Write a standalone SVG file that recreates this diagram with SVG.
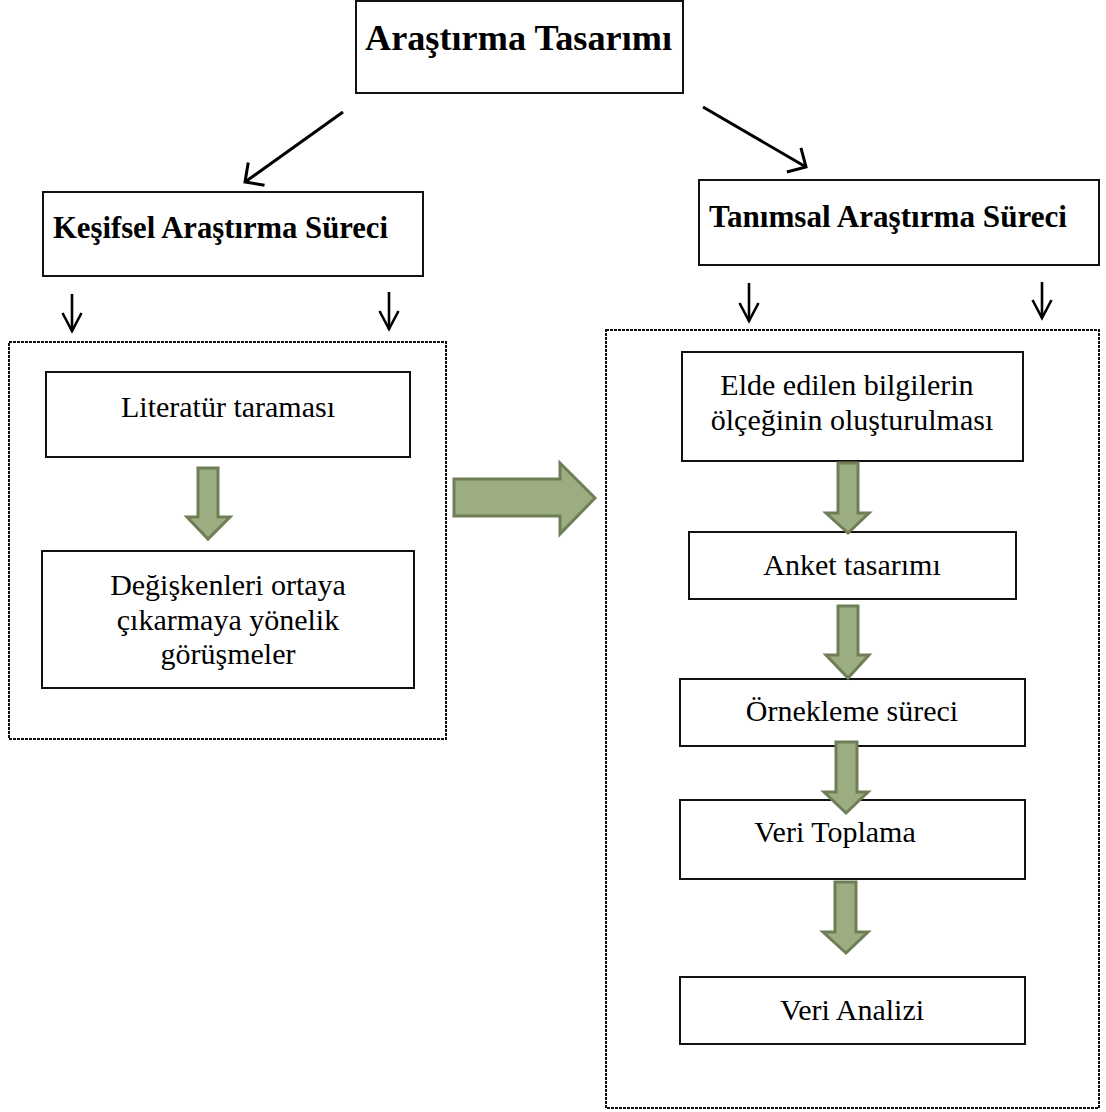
<svg xmlns="http://www.w3.org/2000/svg" width="1106" height="1112" viewBox="0 0 1106 1112">
  <style>
    .box { fill: #ffffff; stroke: #111111; stroke-width: 2; }
    .group { fill: none; stroke: #111111; stroke-width: 2; stroke-dasharray: 3 1; }
    .title { font-family: "Liberation Serif", "Times New Roman", serif; font-weight: bold; fill: #000000; }
    .label { font-family: "Liberation Serif", "Times New Roman", serif; font-size: 30px; fill: #000000; text-anchor: middle; }
    .line { fill: none; stroke: #000000; stroke-linecap: butt; }
    .block { fill: #9cad82; stroke: #6f7e57; stroke-width: 3; stroke-linejoin: miter; }
  </style>
  <defs>
    <marker id="head-lg" markerUnits="userSpaceOnUse" viewBox="-18 -16 20 32" refX="0" refY="0" markerWidth="20" markerHeight="32" orient="auto" overflow="visible">
      <path d="M-14,-14 L0,0 L-14,14" fill="none" stroke="#000" stroke-width="3"/>
    </marker>
    <marker id="head-sm" markerUnits="userSpaceOnUse" viewBox="-20 -11 22 22" refX="0" refY="0" markerWidth="22" markerHeight="22" orient="auto" overflow="visible">
      <path d="M-18,-9.5 L0,0 L-18,9.5" fill="none" stroke="#000" stroke-width="2.6"/>
    </marker>
  </defs>

  <rect width="1106" height="1112" fill="#ffffff"/>

  <!-- dashed containers -->
  <g id="group-kesifsel">
    <rect class="group" x="9" y="342" width="437" height="397"/>
  </g>
  <g id="group-tanimsal">
    <rect class="group" x="606" y="330" width="493" height="778"/>
  </g>

  <!-- nodes -->
  <g id="node-tasarim">
    <rect class="box" x="356" y="1" width="327" height="92"/>
    <text class="title" x="365" y="50" font-size="35" textLength="307" lengthAdjust="spacingAndGlyphs">Araştırma Tasarımı</text>
  </g>
  <g id="node-kesifsel">
    <rect class="box" x="43" y="192" width="380" height="84"/>
    <text class="title" x="53" y="238" font-size="30.5" textLength="335" lengthAdjust="spacingAndGlyphs">Keşifsel Araştırma Süreci</text>
  </g>
  <g id="node-tanimsal">
    <rect class="box" x="699" y="180" width="400" height="85"/>
    <text class="title" x="709" y="227" font-size="30.5" textLength="358" lengthAdjust="spacingAndGlyphs">Tanımsal Araştırma Süreci</text>
  </g>
  <g id="node-literatur">
    <rect class="box" x="46" y="372" width="364" height="85"/>
    <text class="label" x="228" y="417">Literatür taraması</text>
  </g>
  <g id="node-gorusmeler">
    <rect class="box" x="42" y="551" width="372" height="137"/>
    <text class="label" x="228" y="595">Değişkenleri ortaya</text>
    <text class="label" x="228" y="630">çıkarmaya yönelik</text>
    <text class="label" x="228" y="664">görüşmeler</text>
  </g>
  <g id="node-olcek">
    <rect class="box" x="682" y="352" width="341" height="109"/>
    <text class="label" x="847" y="395">Elde edilen bilgilerin</text>
    <text class="label" x="852" y="430">ölçeğinin oluşturulması</text>
  </g>
  <g id="node-anket">
    <rect class="box" x="689" y="532" width="327" height="67"/>
    <text class="label" x="852" y="575">Anket tasarımı</text>
  </g>
  <g id="node-orneklem">
    <rect class="box" x="680" y="679" width="345" height="67"/>
    <text class="label" x="852" y="721">Örnekleme süreci</text>
  </g>
  <g id="node-toplama">
    <rect class="box" x="680" y="800" width="345" height="79"/>
    <text class="label" x="835" y="842">Veri Toplama</text>
  </g>
  <g id="node-analiz">
    <rect class="box" x="680" y="977" width="345" height="67"/>
    <text class="label" x="852" y="1020">Veri Analizi</text>
  </g>

  <!-- connectors -->
  <g id="connectors">
    <line class="line" x1="343" y1="112" x2="245" y2="182" stroke-width="3" marker-end="url(#head-lg)"/>
    <line class="line" x1="703" y1="107" x2="806" y2="167" stroke-width="3" marker-end="url(#head-lg)"/>
    <line class="line" x1="72" y1="294" x2="72" y2="331" stroke-width="2.6" marker-end="url(#head-sm)"/>
    <line class="line" x1="389" y1="292" x2="389" y2="329" stroke-width="2.6" marker-end="url(#head-sm)"/>
    <line class="line" x1="749" y1="283" x2="749" y2="321" stroke-width="2.6" marker-end="url(#head-sm)"/>
    <line class="line" x1="1042" y1="282" x2="1042" y2="318" stroke-width="2.6" marker-end="url(#head-sm)"/>

    <polygon class="block" points="198,468 218,468 218,517 230,517 208,539 187,517 198,517"/>
    <polygon class="block" points="454,479 560,479 560,463 595,498 560,534 560,516 454,516"/>
    <polygon class="block" points="838,463 858,463 858,513 869,513 848,533 826,513 838,513"/>
    <polygon class="block" points="838,606 858,606 858,655 869,655 848,678 826,655 838,655"/>
    <polygon class="block" points="836,742 857,742 857,792 868,792 846,813 824,792 836,792"/>
    <polygon class="block" points="835,882 856,882 856,932 868,932 846,953 823,932 835,932"/>
  </g>
</svg>
